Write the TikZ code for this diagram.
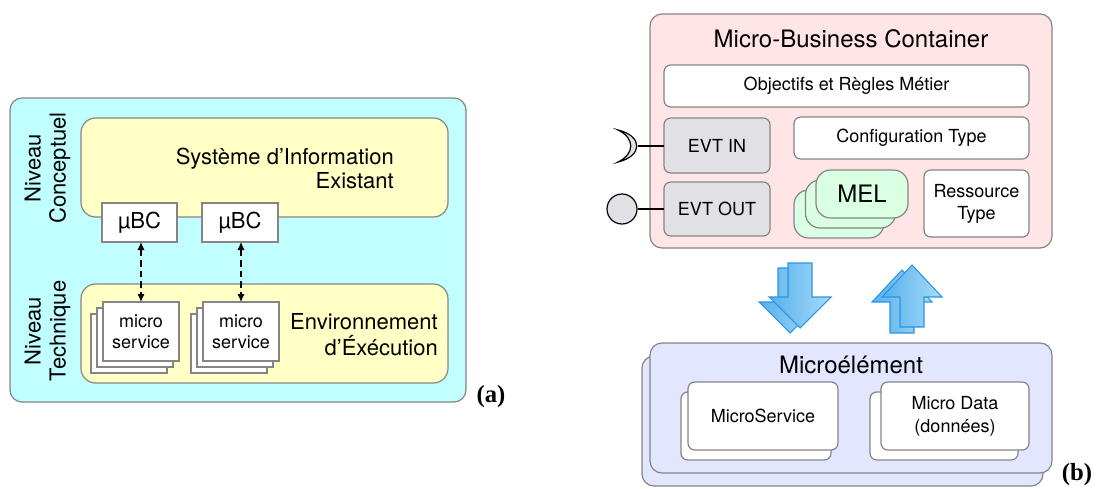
\documentclass[tikz,border=0pt]{standalone}
\usepackage{fontspec}
\setmainfont{TeX Gyre Heros}
\newfontfamily\labfont{Liberation Serif}
\usetikzlibrary{arrows.meta}
\definecolor{cyanbg}{HTML}{C0FEFF}
\definecolor{yellowbg}{HTML}{FFFFC6}
\definecolor{pinkbg}{HTML}{FFE5E5}
\definecolor{graybox}{HTML}{E1E1E5}
\definecolor{greenbg}{HTML}{DAFFE2}
\definecolor{lavbg}{HTML}{E2E6FF}
\definecolor{edgegray}{HTML}{858585}
\definecolor{arrowedge}{HTML}{2B95E3}
\definecolor{arrowdark}{HTML}{56B0EC}
\definecolor{arrowlight}{HTML}{A8DBF9}
\begin{document}
\begin{tikzpicture}[x=0.75pt,y=-0.75pt,
  sz/.style 2 args={minimum width=#1*0.75pt, minimum height=#2*0.75pt},
  base/.style={draw=edgegray, line width=0.9pt, inner sep=0pt, outer sep=0pt, align=center},
  bigbox/.style={base, rounded corners=9pt},
  smallbox/.style={base, rounded corners=5pt, fill=white, font=\fontsize{13.5pt}{16.5pt}\selectfont},
  sharpbox/.style={base, fill=white},
  bigtxt/.style={font=\fontsize{16.5pt}{18pt}\selectfont, inner sep=0pt, align=right},
  ttl/.style={font=\fontsize{18pt}{20pt}\selectfont, inner sep=0pt},
  panellab/.style={font=\labfont\bfseries\fontsize{18.5pt}{20pt}\selectfont, inner sep=0pt},
  dasharrow/.style={dashed, dash pattern=on 5pt off 3pt, line width=0.9pt, {Latex[length=6pt,width=5.5pt]}-{Latex[length=6pt,width=5.5pt]}},
  blockarrow/.style={draw=arrowedge, line width=0.8pt, left color=arrowdark, right color=arrowlight, line join=miter}
]
\useasboundingbox (0,0) rectangle (1096,489);

% ---------------- panel (a) ----------------
\node[bigbox, fill=cyanbg, sz={456}{304}] (outerA) at (238,250) {};
\node[bigbox, fill=yellowbg, rounded corners=11pt, sz={367}{99}] (sys) at (264.5,167.5) {};
\node[bigbox, fill=yellowbg, rounded corners=11pt, sz={367}{99}] (env) at (264.5,333.5) {};
\node[bigtxt, anchor=east, font=\fontsize{16.5pt}{18pt}\selectfont] (systxt) at (394,168) {Système d’Information\\Existant};
\node[bigtxt, anchor=east, font=\fontsize{16.5pt}{19.5pt}\selectfont] (envtxt) at (438,335) {Environnement\\d’Éxécution};

\node[sharpbox, sz={75}{39}, font=\fontsize{16.5pt}{18pt}\selectfont] (mubc1) at (139.5,222.5) {µBC};
\node[sharpbox, sz={76}{39}, font=\fontsize{16.5pt}{18pt}\selectfont] (mubc2) at (240,222.5) {µBC};

\node[sharpbox, sz={76}{59}] (ms1c) at (129,343.5) {};
\node[sharpbox, sz={76}{59}] (ms1b) at (135,337.5) {};
\node[sharpbox, sz={76}{59}, font=\fontsize{13.5pt}{15.75pt}\selectfont] (ms1) at (141,331.5) {micro\\service};
\node[sharpbox, sz={76}{59}] (ms2c) at (229,343.5) {};
\node[sharpbox, sz={76}{59}] (ms2b) at (235,337.5) {};
\node[sharpbox, sz={76}{59}, font=\fontsize{13.5pt}{15.75pt}\selectfont] (ms2) at (241,331.5) {micro\\service};

\draw[dasharrow] (ms1.north |- mubc1.south) -- (ms1.north);
\draw[dasharrow] (ms2.north |- mubc2.south) -- (ms2.north);

\node[rotate=90, font=\fontsize{16.5pt}{18.75pt}\selectfont, align=center, inner sep=0pt] (nivC) at (47.5,168) {Niveau\\Conceptuel};
\node[rotate=90, font=\fontsize{16.5pt}{18.75pt}\selectfont, align=center, inner sep=0pt] (nivT) at (47.5,331) {Niveau\\Technique};

\node[panellab] (laba) at (491,397) {(a)};

% ---------------- panel (b) ----------------
\node[bigbox, fill=pinkbg, sz={402}{234}] (mbc) at (851,131) {};
\node[ttl] (mbctitle) at (851,39) {Micro-Business Container};
\node[smallbox, sz={365}{42}] (obj) at (846.5,86) {Objectifs et Règles Métier};
\node[smallbox, fill=graybox, sz={106}{55}] (evtin) at (717,145.5) {EVT IN};
\node[smallbox, fill=graybox, sz={106}{54}] (evtout) at (717,209) {EVT OUT};
\node[smallbox, sz={235}{42}] (config) at (911.5,138) {Configuration Type};
\node[smallbox, sz={105}{67}, font=\fontsize{13.5pt}{16.5pt}\selectfont] (ress) at (976.5,203.5) {Ressource\\Type};

\node[base, fill=greenbg, rounded corners=11pt, sz={90}{48}] (mel3) at (839,214) {};
\node[base, fill=greenbg, rounded corners=11pt, sz={90}{48}] (mel2) at (850.5,204) {};
\node[base, fill=greenbg, rounded corners=11pt, sz={92}{48}, font=\fontsize{18pt}{20pt}\selectfont] (mel) at (862,194) {MEL};

% required / provided interfaces
\coordinate (sock) at (638,146);
\draw[line width=0.9pt] (evtin.west |- sock) -- (sock);
\draw[line width=0.9pt, fill=graybox] (618,130) .. controls (643,136) and (643,156) .. (618,162)
  .. controls (635,154) and (635,138) .. (618,130) -- cycle;
\node[circle, draw=black, line width=0.9pt, fill=graybox, minimum size=30*0.75pt, inner sep=0pt] (ball) at (622,209) {};
\draw[line width=0.9pt] (ball.east) -- (evtout.west |- ball.east);

% block arrows
\draw[blockarrow] (778,268) -- (802,268) -- (802,302) -- (821,302) -- (790,333) -- (759,302) -- (778,302) -- cycle;
\draw[blockarrow] (788,263) -- (812,263) -- (812,297) -- (831,297) -- (800,328) -- (769,297) -- (788,297) -- cycle;
\draw[blockarrow] (890,333) -- (914,333) -- (914,302) -- (932,302) -- (902,270) -- (872,302) -- (890,302) -- cycle;
\draw[blockarrow] (900,327) -- (924,327) -- (924,297) -- (942,297) -- (912,265) -- (882,297) -- (900,297) -- cycle;

% microelement
\node[bigbox, fill=lavbg, sz={401}{130}] (meb) at (842.5,421) {};
\node[bigbox, fill=lavbg, sz={402}{130}] (me) at (851,408) {};
\node[ttl] (metitle) at (851,365) {Microélément};
\node[smallbox, sz={150}{68}] (msvcb) at (756,426) {};
\node[smallbox, sz={150}{68}] (msvc) at (763,416) {MicroService};
\node[smallbox, sz={148}{68}] (mdatab) at (944,426) {};
\node[smallbox, sz={148}{68}, font=\fontsize{13.5pt}{17.25pt}\selectfont] (mdata) at (955,416) {Micro Data\\(données)};

\node[panellab] (labb) at (1077,475) {(b)};
\end{tikzpicture}
\end{document}
